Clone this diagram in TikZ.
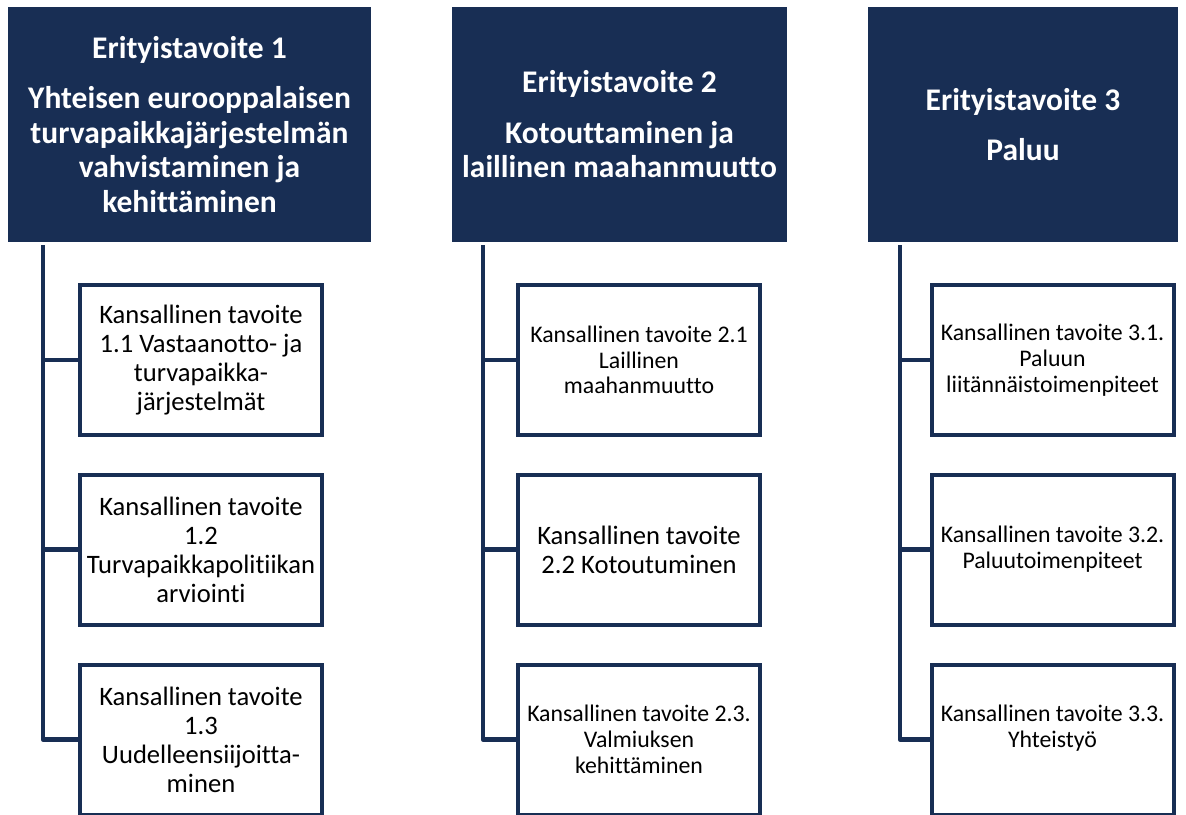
\documentclass[tikz,border=0pt]{standalone}
\usepackage{fontspec}
\setmainfont{Carlito}[Ligatures=NoCommon]
\usetikzlibrary{positioning}
\definecolor{cNavy}{RGB}{24,46,84}
\tikzset{
  head/.style={fill=cNavy, text=white, align=center, inner sep=0pt, minimum width=#1, minimum height=235pt, font=\fontsize{31.5}{34.5}\selectfont\bfseries},
  kbox/.style={draw=cNavy, line width=4pt, fill=white, align=center, inner sep=2pt, minimum width=242pt, minimum height=150pt, font=\fontsize{26.6}{29}\selectfont},
  ksmall/.style={font=\fontsize{23.8}{25.8}\selectfont},
  spine/.style={draw=cNavy, line width=4.3pt, line join=round}
}

\begin{document}
\begin{tikzpicture}[x=1pt, y=-1pt]
  \useasboundingbox (0,0) rectangle (1186,814);
  \clip (0,0) rectangle (1186,814);
  % erityistavoitteet
  \node[head=363pt] (h1) at (189.5,124.5) {Erityistavoite 1\\[16pt]Yhteisen eurooppalaisen\\turvapaikkajärjestelmän\\vahvistaminen ja\\kehittäminen};
  \node[head=335pt] (h2) at (619.5,124.5) {Erityistavoite 2\\[16pt]Kotouttaminen ja\\laillinen maahanmuutto};
  \node[head=310pt] (h3) at (1023,124.5) {Erityistavoite 3\\[15pt]Paluu};
  % kansalliset tavoitteet
  \node[kbox] (k11) at (201,360) {Kansallinen tavoite\\1.1 Vastaanotto- ja\\turvapaikka-\\järjestelmät};
  \node[kbox] (k12) at (201,549.5) {Kansallinen tavoite\\1.2\\Turvapaikkapolitiikan\\arviointi};
  \node[kbox] (k13) at (201,739.5) {Kansallinen tavoite\\1.3\\Uudelleensiijoitta-\\minen};
  \node[kbox, ksmall] (k21) at (639,360) {Kansallinen tavoite 2.1\\Laillinen\\maahanmuutto};
  \node[kbox] (k22) at (639,549.5) {Kansallinen tavoite\\2.2 Kotoutuminen};
  \node[kbox, ksmall] (k23) at (639,739.5) {Kansallinen tavoite 2.3.\\Valmiuksen\\kehittäminen};
  \node[kbox, ksmall] (k31) at (1052.5,360) {Kansallinen tavoite 3.1.\\Paluun\\liitännäistoimenpiteet};
  \node[kbox, ksmall] (k32) at (1052.5,549.5) {Kansallinen tavoite 3.2.\\Paluutoimenpiteet};
  \node[kbox, ksmall] (k33) at (1052.5,739.5) {Kansallinen tavoite 3.3.\\Yhteistyö\\\mbox{}};
  % rungot
  \coordinate (s1) at (43,245);
  \coordinate (s2) at (483,245);
  \coordinate (s3) at (900,245);
  \foreach \s/\c in {s1/1,s2/2,s3/3} {
    \draw[spine] (\s) |- (k\c3.west);
    \draw[spine] (\s |- k\c1.west) -- (k\c1.west);
    \draw[spine] (\s |- k\c2.west) -- (k\c2.west);
  }
\end{tikzpicture}
\end{document}
